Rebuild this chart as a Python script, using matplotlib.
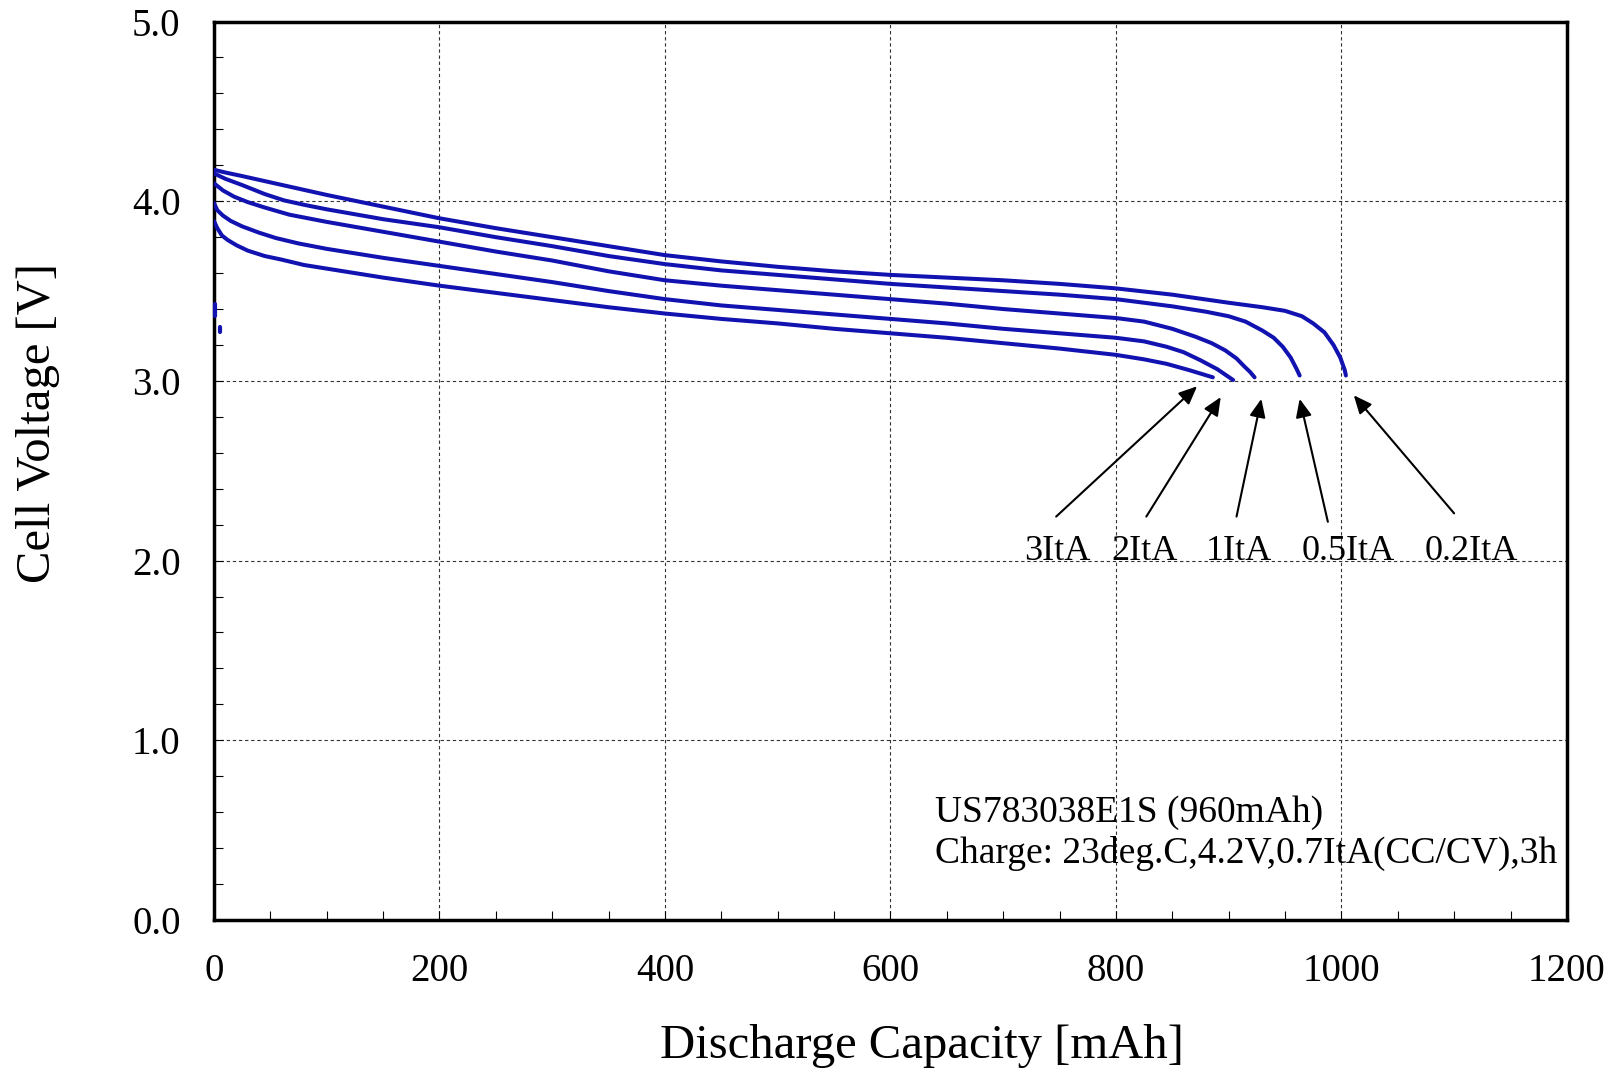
import matplotlib
matplotlib.use("Agg")
import matplotlib.pyplot as plt
from matplotlib.ticker import MultipleLocator, FormatStrFormatter

plt.rcParams['font.family'] = ['Liberation Serif', 'DejaVu Serif']

# discharge curves: capacity [mAh], voltage [V]
rates = ["3ItA", "2ItA", "1ItA", "0.5ItA", "0.2ItA"]

cap_3it = [0, 3, 7, 12, 20, 30, 45, 60, 80, 100, 150, 200, 250, 300, 350, 400, 450, 500,
           550, 600, 650, 700, 750, 800, 825, 845, 865, 886]
v_3it = [3.89, 3.85, 3.81, 3.785, 3.755, 3.725, 3.695, 3.675, 3.645, 3.625, 3.575, 3.53, 3.49,
         3.45, 3.41, 3.375, 3.345, 3.32, 3.29, 3.265, 3.24, 3.21, 3.18, 3.145, 3.12, 3.095,
         3.06, 3.02]

cap_2it = [0, 3, 8, 15, 25, 40, 55, 75, 100, 150, 200, 250, 300, 350, 400, 450, 500, 550,
           600, 650, 700, 750, 800, 825, 845, 860, 875, 890, 904]
v_2it = [3.99, 3.95, 3.92, 3.89, 3.86, 3.825, 3.795, 3.765, 3.735, 3.685, 3.64, 3.595, 3.55,
         3.50, 3.455, 3.42, 3.395, 3.37, 3.345, 3.32, 3.29, 3.265, 3.24, 3.22, 3.19, 3.16,
         3.115, 3.065, 3.005]

cap_1it = [0, 8, 18, 30, 45, 67, 100, 150, 200, 250, 300, 350, 400, 450, 500, 550, 600, 650,
           700, 750, 800, 825, 850, 871, 885, 897, 907, 914, 919, 923]
v_1it = [4.10, 4.06, 4.025, 3.995, 3.965, 3.925, 3.885, 3.83, 3.775, 3.72, 3.67, 3.61, 3.56,
         3.53, 3.505, 3.48, 3.455, 3.43, 3.40, 3.375, 3.35, 3.33, 3.29, 3.245, 3.21, 3.17,
         3.125, 3.08, 3.05, 3.02]

cap_05it = [0, 10, 25, 45, 62, 80, 100, 150, 200, 250, 300, 350, 400, 450, 500, 550, 600, 650,
            700, 750, 800, 850, 880, 900, 915, 930, 940, 948, 955, 960, 963]
v_05it = [4.155, 4.125, 4.09, 4.04, 4.005, 3.98, 3.955, 3.90, 3.855, 3.80, 3.75, 3.695, 3.65,
          3.615, 3.59, 3.565, 3.54, 3.52, 3.50, 3.48, 3.455, 3.415, 3.385, 3.36, 3.33, 3.28,
          3.24, 3.19, 3.13, 3.07, 3.03]

cap_02it = [0, 10, 25, 50, 75, 100, 150, 200, 250, 300, 350, 400, 450, 500, 550, 600, 650, 700,
            750, 800, 850, 900, 930, 950, 965, 975, 985, 993, 999, 1003, 1004]
v_02it = [4.175, 4.16, 4.14, 4.105, 4.07, 4.035, 3.97, 3.905, 3.85, 3.80, 3.75, 3.70, 3.665,
          3.635, 3.61, 3.59, 3.575, 3.56, 3.54, 3.515, 3.48, 3.435, 3.41, 3.39, 3.36, 3.32,
          3.27, 3.20, 3.13, 3.06, 3.03]

caps = [cap_3it, cap_2it, cap_1it, cap_05it, cap_02it]
volts = [v_3it, v_2it, v_1it, v_05it, v_02it]

# small stray marks near the y axis
stray_cap = [[1, 1], [5, 5]]
stray_v = [[3.36, 3.43], [3.27, 3.30]]

fig = plt.figure(figsize=(16.17, 10.71), dpi=100)
ax = fig.add_axes([0.1323, 0.1410, 0.8367, 0.8389])

line_color = "#1212B0"
for c, v in zip(caps, volts):
    ax.plot(c, v, color=line_color, lw=2.9, solid_capstyle='round',
            solid_joinstyle='round', zorder=3)
for c, v in zip(stray_cap, stray_v):
    ax.plot(c, v, color=line_color, lw=3, solid_capstyle='round', clip_on=False, zorder=4)

ax.set_xlim(0, 1200)
ax.set_ylim(0, 5)
ax.xaxis.set_major_locator(MultipleLocator(200))
ax.xaxis.set_minor_locator(MultipleLocator(50))
ax.yaxis.set_major_locator(MultipleLocator(1.0))
ax.yaxis.set_minor_locator(MultipleLocator(0.2))
ax.yaxis.set_major_formatter(FormatStrFormatter('%.1f'))

ax.grid(True, which='major', color='#333333', lw=0.8, linestyle=(0, (3, 2.5)), zorder=1)
ax.tick_params(which='both', direction='in', length=6.5, width=0.8, top=False, right=False)
ax.tick_params(axis='x', which='major', labelsize=28, pad=24)
ax.tick_params(axis='y', which='major', labelsize=28, pad=24)

for sp in ax.spines.values():
    sp.set_linewidth(2.5)

ax.set_xlabel("Discharge Capacity [mAh]", fontsize=35)
ax.set_ylabel("Cell Voltage [V]", fontsize=35)
ax.xaxis.set_label_coords(0.523, -0.116)
ax.yaxis.set_label_coords(-0.114, 0.553)

# arrows pointing from the rate labels to the curve ends
arrow_tails = [(747, 2.245), (827, 2.245), (907, 2.245), (988, 2.216), (1100, 2.263)]
arrow_tips = [(872, 2.97), (893, 2.91), (929, 2.90), (963, 2.90), (1011, 2.92)]
label_x = [748, 825, 909, 1006, 1115]
for name, tail, tip, lx in zip(rates, arrow_tails, arrow_tips, label_x):
    ax.annotate("", xy=tip, xytext=tail,
                arrowprops=dict(arrowstyle='-|>,head_length=0.5,head_width=0.22',
                                mutation_scale=22, color='black', lw=1.5,
                                shrinkA=0, shrinkB=0), zorder=5)
    ax.text(lx, 2.005, name, fontsize=26, ha='center', va='baseline', zorder=5)

ax.text(640, 0.548, "US783038E1S (960mAh)", fontsize=27, ha='left', va='baseline')
ax.text(640, 0.318, "Charge: 23deg.C,4.2V,0.7ItA(CC/CV),3h", fontsize=27, ha='left', va='baseline')

fig.savefig("out.png", dpi=100)
